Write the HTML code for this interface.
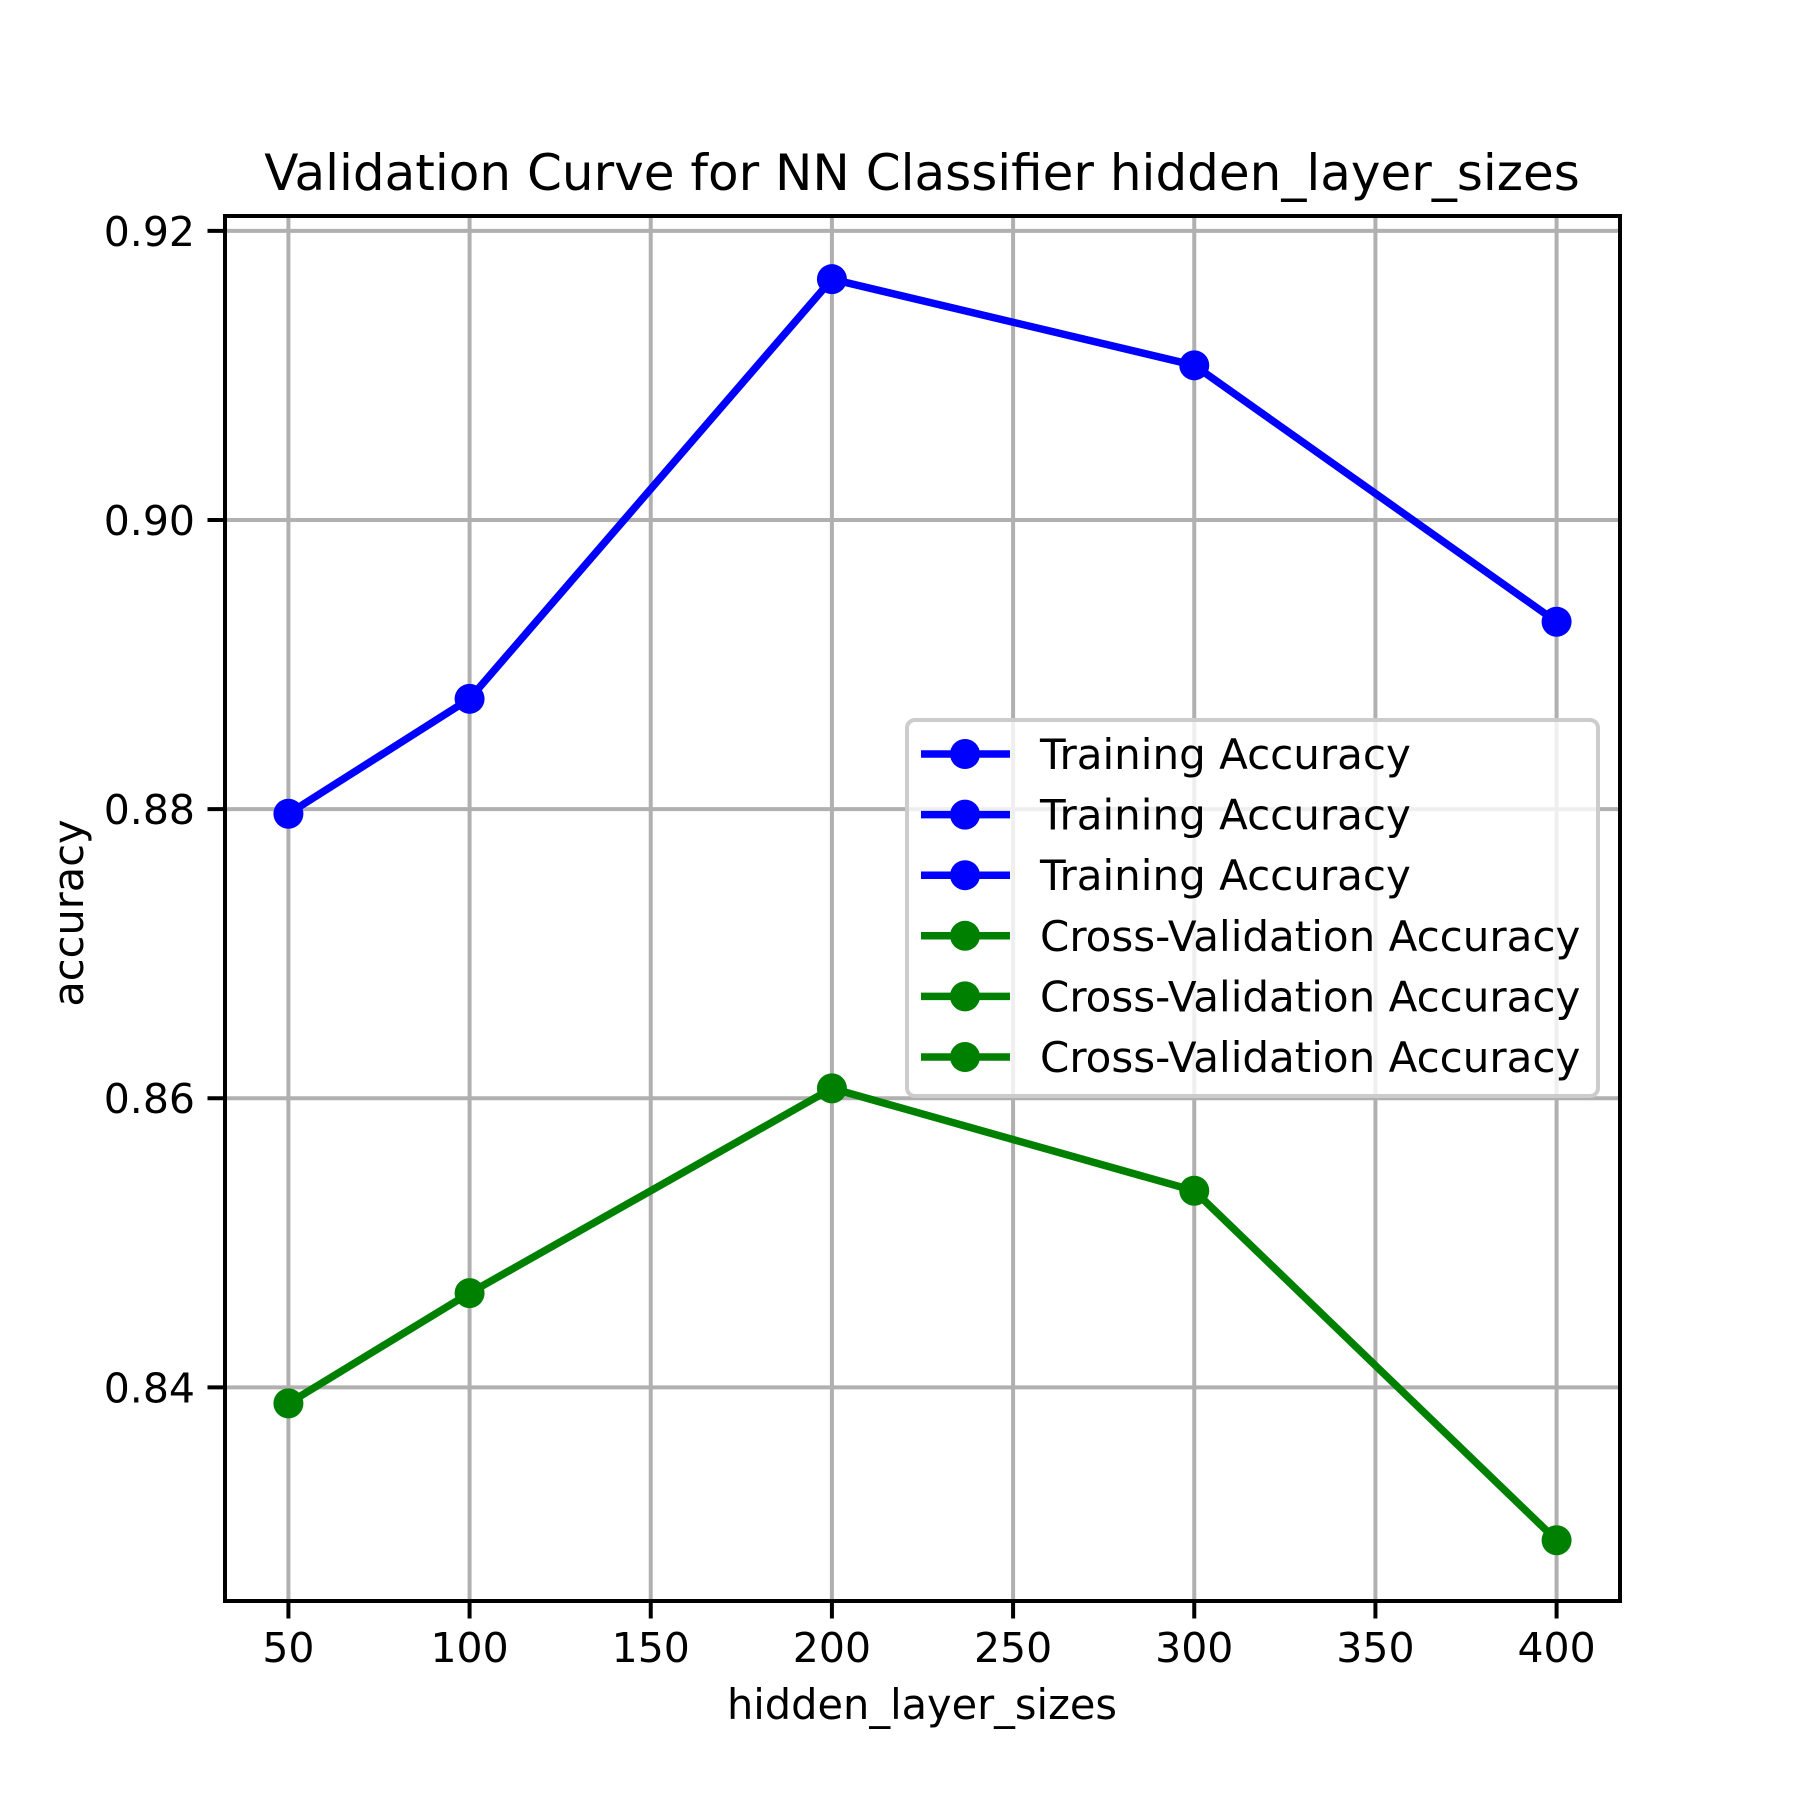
<!DOCTYPE html>
<html><head><meta charset="utf-8"><style>html,body{margin:0;padding:0;background:#fff}svg{display:block}text{font-family:"DejaVu Sans","Liberation Sans",sans-serif}</style></head>
<body>
<svg id="chart" width="1800" height="1800" xmlns="http://www.w3.org/2000/svg"></svg>
<script>
const xValues=[50,100,200,300,400];
const trainAcc=[0.87968,0.88763,0.91666,0.9107,0.89296];
const cvAcc=[0.83889,0.84652,0.86068,0.8536,0.82942];
const xTicks=[50,100,150,200,250,300,350,400];
const yTicks=[0.84,0.86,0.88,0.90,0.92];
const yTickLabels=["0.84","0.86","0.88","0.90","0.92"];
const L=225,R=1620,T=216,B=1601;
const xmin=32.5,xmax=417.5,ymin=0.82522,ymax=0.92103;
const sx=v=>L+(v-xmin)/(xmax-xmin)*(R-L);
const sy=v=>B-(v-ymin)/(ymax-ymin)*(B-T);
const svg=document.getElementById('chart');
const NS='http://www.w3.org/2000/svg';
function mk(tag,attrs,parent){const e=document.createElementNS(NS,tag);for(const k in attrs)e.setAttribute(k,attrs[k]);(parent||svg).appendChild(e);return e;}
xTicks.forEach(v=>{const l=mk('line',{x1:sx(v),x2:sx(v),y1:T,y2:B,stroke:'#b0b0b0','stroke-width':4});

});
yTicks.forEach(v=>{const l=mk('line',{x1:L,x2:R,y1:sy(v),y2:sy(v),stroke:'#b0b0b0','stroke-width':4});

});
function series(vals,color,name){
const pts=xValues.map((x,i)=>sx(x)+','+sy(vals[i])).join(' ');
const pl=mk('polyline',{points:pts,fill:'none',stroke:color,'stroke-width':7.5,'stroke-linejoin':'round'});


xValues.forEach((x,i)=>{const c=mk('circle',{cx:sx(x),cy:sy(vals[i]),r:15,fill:color});

});}
series(trainAcc,'#0000ff','training-accuracy');
series(cvAcc,'#008000','cv-accuracy');
const fr=mk('rect',{x:L,y:T,width:R-L,height:B-T,fill:'none',stroke:'#000','stroke-width':4});


xTicks.forEach(v=>{const t=mk('line',{x1:sx(v),x2:sx(v),y1:B,y2:B+17.5,stroke:'#000','stroke-width':4});


const tx=mk('text',{x:sx(v),y:1662,'font-size':41,'text-anchor':'middle'});tx.textContent=v;

});
yTicks.forEach((v,i)=>{const t=mk('line',{x1:L-17.5,x2:L,y1:sy(v),y2:sy(v),stroke:'#000','stroke-width':4});


const tx=mk('text',{x:195,y:sy(v)+15,'font-size':41,'text-anchor':'end'});tx.textContent=yTickLabels[i];

});
const title=mk('text',{x:922,y:190,'font-size':50,'text-anchor':'middle'});title.textContent='Validation Curve for NN Classifier hidden_layer_sizes';


const xl=mk('text',{x:922,y:1719,'font-size':41.5,'text-anchor':'middle'});xl.textContent='hidden_layer_sizes';


const yl=mk('text',{x:0,y:0,'font-size':41.5,'text-anchor':'middle',transform:'translate(83,913) rotate(-90)'});yl.textContent='accuracy';


const lg=mk('g',{});


mk('rect',{x:907,y:720,width:691,height:376,rx:8,fill:'#fff','fill-opacity':0.8,stroke:'#cccccc','stroke-width':4},lg);
const legendLabels=['Training Accuracy','Training Accuracy','Training Accuracy','Cross-Validation Accuracy','Cross-Validation Accuracy','Cross-Validation Accuracy'];
const legendColors=['#0000ff','#0000ff','#0000ff','#008000','#008000','#008000'];
legendLabels.forEach((lab,i)=>{const y=754+i*60.6;
const g=mk('g',{},lg);


mk('line',{x1:921,x2:1010,y1:y,y2:y,stroke:legendColors[i],'stroke-width':7.5},g);
mk('circle',{cx:965,cy:y,r:15,fill:legendColors[i]},g);
const t=mk('text',{x:1040,y:y+15,'font-size':42},g);t.textContent=lab;});
</script>
</body></html>
